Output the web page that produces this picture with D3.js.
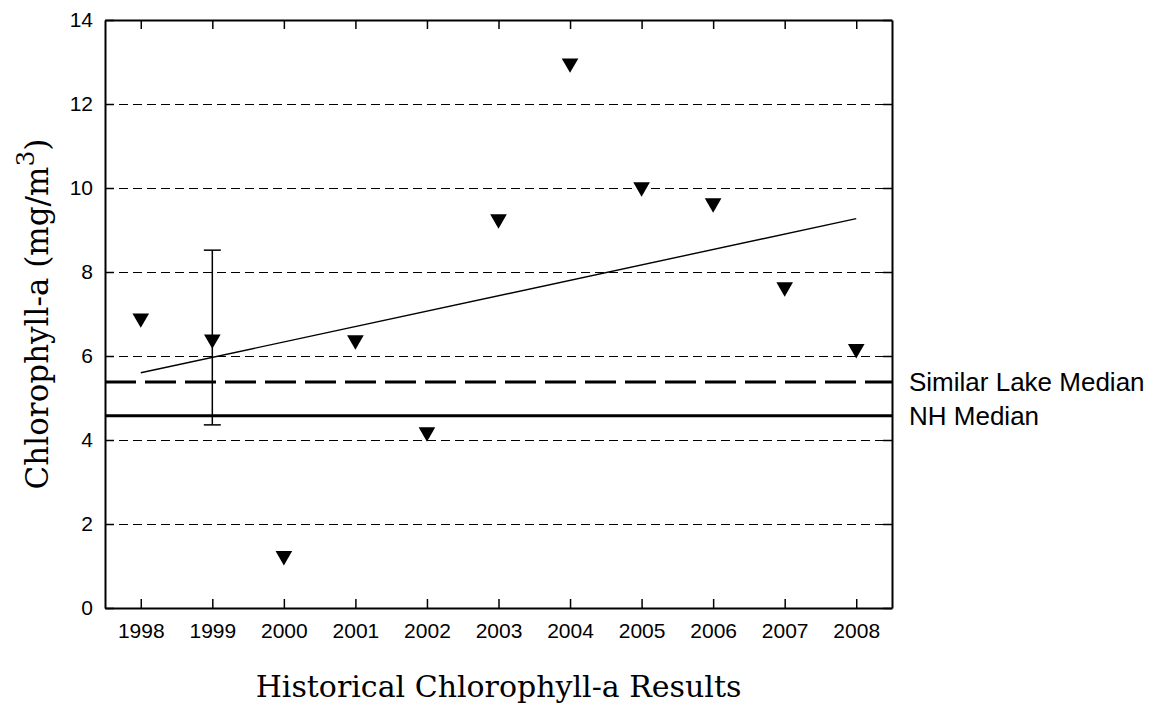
<!DOCTYPE html>
<html>
<head>
<meta charset="utf-8">
<script src="https://cdn.jsdelivr.net/npm/d3@7"></script>
<style>
  body { margin: 0; background: #fff; }
  svg text { fill: #000; }
</style>
</head>
<body>
<div id="chart"></div>
<script>
const W = 1152, H = 705;
const MARGIN = { top: 20, right: 260, bottom: 97, left: 105 };

const years = [1998, 1999, 2000, 2001, 2002, 2003, 2004, 2005, 2006, 2007, 2008];
const chlorophyll = [6.9, 6.4, 1.24, 6.38, 4.19, 9.26, 12.97, 10.02, 9.64, 7.64, 6.17];
const yTicks = [0, 2, 4, 6, 8, 10, 12, 14];
const gridValues = [2, 4, 6, 8, 10, 12];
const errorBar = { year: 1999, low: 4.36, high: 8.52 };
const trend = [{ year: 1998, value: 5.6 }, { year: 2008, value: 9.27 }];
const medians = [
  { label: "Similar Lake Median", value: 5.38, dash: "31,9" },
  { label: "NH Median", value: 4.58, dash: null }
];

let svg = d3.select('#chart').append('svg')
  .attr('width', W).attr('height', H);

let innerW = W - MARGIN.left - MARGIN.right;
let innerH = H - MARGIN.top - MARGIN.bottom;

let x = d3.scaleLinear().domain([1997.5, 2008.5]).range([MARGIN.left, MARGIN.left + innerW]);
let y = d3.scaleLinear().domain([0, 14]).range([MARGIN.top + innerH, MARGIN.top]);

// dashed gridlines
svg.append('g').attr('transform', 'translate(0,0.5)')
  .selectAll('line').data(gridValues).join('line')
  .attr('x1', x.range()[0]).attr('x2', x.range()[1])
  .attr('y1', d => y(d)).attr('y2', d => y(d))
  .attr('stroke', '#000').attr('stroke-width', 1)
  .attr('stroke-dasharray', '9,5');

// axes with inward ticks
const TICK = 9;
const SANS = '"Liberation Sans", Arial, sans-serif';
let fmtYear = d3.format('d');
let axisB = svg.append('g').attr('transform', `translate(0,${y(0)})`)
  .call(d3.axisBottom(x).tickValues(years).tickFormat(fmtYear).tickSizeInner(-TICK).tickSizeOuter(0).tickPadding(15));
let axisT = svg.append('g').attr('transform', `translate(0,${y(14)})`)
  .call(d3.axisTop(x).tickValues(years).tickFormat('').tickSizeInner(-TICK).tickSizeOuter(0));
let axisL = svg.append('g').attr('transform', `translate(${x(1997.5)},0)`)
  .call(d3.axisLeft(y).tickValues(yTicks).tickFormat(d3.format('d')).tickSizeInner(-TICK).tickSizeOuter(0).tickPadding(12));
let axisR = svg.append('g').attr('transform', `translate(${x(2008.5)},0)`)
  .call(d3.axisRight(y).tickValues(yTicks).tickFormat('').tickSizeInner(-TICK).tickSizeOuter(0));

svg.selectAll('.domain').attr('stroke', '#000').attr('stroke-width', 2);
svg.selectAll('.tick line').attr('stroke', '#000').attr('stroke-width', 1.5);
[axisB, axisL].forEach(a => a.attr('font-family', SANS).attr('font-size', 21));

// median lines
svg.append('g').selectAll('line').data(medians).join('line')
  .attr('x1', x.range()[0]).attr('x2', x.range()[1])
  .attr('y1', d => y(d.value)).attr('y2', d => y(d.value))
  .attr('stroke', '#000').attr('stroke-width', 3)
  .attr('stroke-dasharray', d => d.dash);

svg.append('g').selectAll('text').data(medians).join('text')
  .attr('x', x.range()[1] + 17)
  .attr('y', d => y(d.value))
  .attr('dy', '0.36em')
  .attr('font-family', SANS)
  .attr('font-size', 26)
  .text(d => d.label);

// trend line
svg.append('path')
  .datum(trend)
  .attr('d', d3.line().x(d => x(d.year)).y(d => y(d.value)))
  .attr('fill', 'none').attr('stroke', '#000').attr('stroke-width', 1.4);

// error bar
let eb = svg.append('g').attr('stroke', '#000').attr('stroke-width', 1.5);
eb.append('line')
  .attr('x1', x(errorBar.year)).attr('x2', x(errorBar.year))
  .attr('y1', y(errorBar.low)).attr('y2', y(errorBar.high));
eb.selectAll('.cap').data([errorBar.low, errorBar.high]).join('line')
  .attr('class', 'cap')
  .attr('x1', x(errorBar.year) - 8.5).attr('x2', x(errorBar.year) + 8.5)
  .attr('y1', d => y(d)).attr('y2', d => y(d));

// triangle markers
let tri = d3.symbol().type(d3.symbolTriangle).size(120);
svg.append('g').selectAll('path').data(years).join('path')
  .attr('d', tri)
  .attr('transform', (d, i) => `translate(${x(d)},${y(chlorophyll[i])}) rotate(180)`)
  .attr('fill', '#000');

// axis titles
svg.append('text')
  .attr('x', (x.range()[0] + x.range()[1]) / 2)
  .attr('y', 697)
  .attr('text-anchor', 'middle')
  .attr('font-family', '"DejaVu Serif", serif')
  .attr('font-size', 30)
  .text('Historical Chlorophyll-a Results');

let yt = svg.append('text')
  .attr('transform', `translate(48,${(y(0) + y(14)) / 2}) rotate(-90)`)
  .attr('text-anchor', 'middle')
  .attr('font-family', '"DejaVu Serif", serif')
  .attr('font-size', 31);
yt.append('tspan').text('Chlorophyll-a (mg/m');
yt.append('tspan').attr('dy', -14).attr('font-size', 25).text('3');
yt.append('tspan').attr('dy', 14).text(')');
</script>
</body>
</html>
